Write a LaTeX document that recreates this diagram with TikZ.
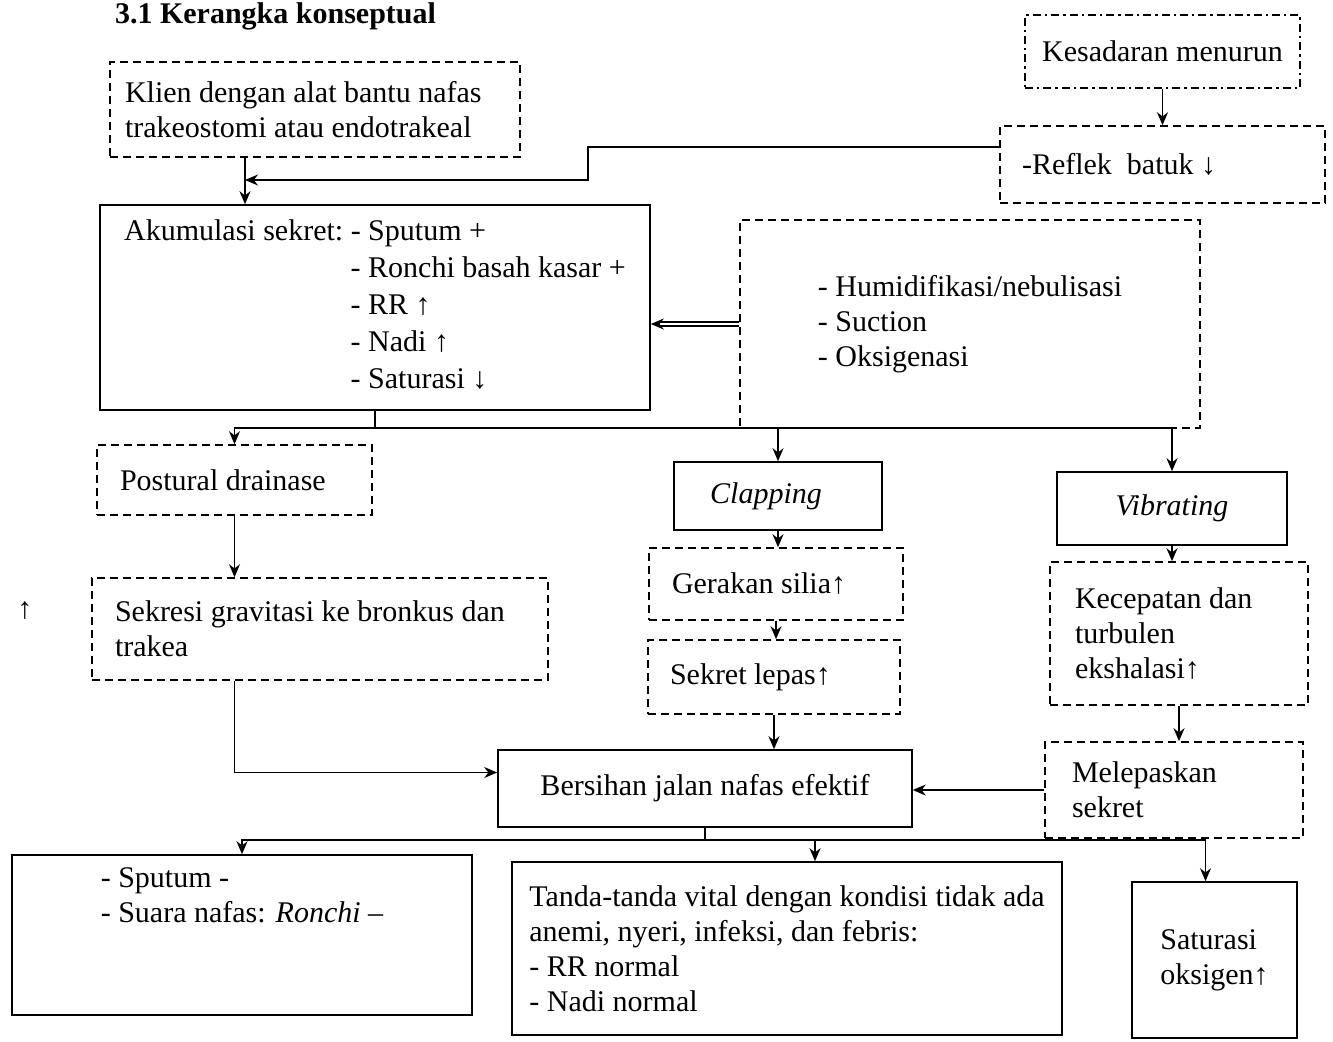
\documentclass[tikz,border=0pt]{standalone}
\usepackage{fontspec}
\setmainfont{Liberation Serif}
\usetikzlibrary{arrows.meta}

\begin{document}
\begin{tikzpicture}[x=0.5pt, y=-0.5pt,
    kotak/.style={draw, line width=0.8pt, inner sep=4pt, font=\fontsize{15}{17.5}\selectfont},
    garis/.style={kotak, dash pattern=on 4pt off 2.5pt},
    titik/.style={kotak, dash pattern=on 4pt off 2pt on 1.2pt off 2pt},
    hubung/.style={line width=0.8pt},
    panah/.style={hubung, -{Stealth[length=6.5pt,width=5.5pt]}}]
    \useasboundingbox (0,0) rectangle (1333,1041);
    \node[anchor=west, font=\fontsize{15}{18}\selectfont\bfseries] (judul) at (108,16) {3.1 Kerangka konseptual};
    \node[font=\fontsize{15}{18}\selectfont] (panahlepas) at (25,610) {↑};

    \node[titik, minimum width=137.5pt, minimum height=36.5pt] (kesadaran) at (1162.5,51.5) {Kesadaran menurun};
    \node[garis, minimum width=162.5pt, minimum height=38.5pt, text width=140.5pt, inner xsep=11pt, align=flush left] (reflek) at (1162.5,164.5) {-Reflek\ \ batuk ↓};
    \node[garis, minimum width=205pt, minimum height=47.5pt, text width=190pt, inner xsep=7.5pt, align=flush left] (klien) at (315,109.5) {Klien dengan alat bantu nafas\\trakeostomi atau endotrakeal};
    \node[kotak, minimum width=275pt, minimum height=102.5pt, font=\fontsize{15}{18.5}\selectfont] (akumulasi) at (375,307.5) {\begin{tabular}{@{}l@{\ }l@{}}Akumulasi sekret: & - Sputum +\\ & - Ronchi basah kasar +\\ & - RR ↑\\ & - Nadi ↑\\ & - Saturasi ↓\end{tabular}};
    \node[garis, minimum width=230pt, minimum height=104pt, align=flush left] (intervensi) at (970,324) {- Humidifikasi/nebulisasi\\- Suction\\- Oksigenasi};

    \node[garis, minimum width=137.5pt, minimum height=35pt, text width=114.5pt, inner xsep=11.5pt, align=flush left] (postural) at (234.5,480) {Postural drainase};
    \node[garis, minimum width=228pt, minimum height=51pt, text width=205pt, inner xsep=11.5pt, align=flush left] (sekresi) at (320,629) {Sekresi gravitasi ke bronkus dan\\trakea};
    \node[kotak, minimum width=104pt, minimum height=34pt] (clapping) at (778,496) {\textit{Clapping}\hspace*{12pt}};
    \node[garis, minimum width=127pt, minimum height=36pt, text width=104pt, inner xsep=11.5pt, align=flush left] (gerakan) at (776,584) {Gerakan silia↑};
    \node[garis, minimum width=126pt, minimum height=37pt, text width=104pt, inner xsep=11pt, align=flush left] (sekretlepas) at (774,677) {Sekret lepas↑};
    \node[kotak, minimum width=115pt, minimum height=36.5pt] (vibrating) at (1172,508.5) {\textit{Vibrating}};
    \node[garis, minimum width=129pt, minimum height=71.5pt, text width=104pt, inner xsep=12.5pt, align=flush left] (kecepatan) at (1179,633.5) {Kecepatan dan\\turbulen\\ekshalasi↑};
    \node[garis, minimum width=129pt, minimum height=48pt, text width=102pt, inner xsep=13.5pt, align=flush left] (melepaskan) at (1174,790) {Melepaskan\\sekret};
    \node[kotak, minimum width=207pt, minimum height=38.5pt] (bersihan) at (705,788.5) {Bersihan jalan nafas efektif};

    \node[kotak, minimum width=230pt, minimum height=80pt, align=flush left] (hasil) at (242,935) {- Sputum -\\- Suara nafas: \textit{Ronchi} –\\\strut\\\strut};
    \node[kotak, minimum width=275pt, minimum height=86.5pt, align=flush left] (tanda) at (787,948.5) {Tanda-tanda vital dengan kondisi tidak ada\\anemi, nyeri, infeksi, dan febris:\\- RR normal\\- Nadi normal};
    \node[kotak, minimum width=82.5pt, minimum height=78pt, align=flush left] (saturasi) at (1214.5,960) {Saturasi\\oksigen↑};

    \coordinate (sambung) at (245,180);
    \coordinate (tekuk) at (588,180);
    \coordinate (cabang1) at (375,428);
    \coordinate (cabang2) at (705,840);

    \draw[panah] (kesadaran) -- (reflek);
    \draw[panah] ([yshift=8.75pt]reflek.west) -| (tekuk) -- (sambung);
    \draw[panah] (klien.south -| sambung) -- (akumulasi.north -| sambung);
    \draw[panah, double, double distance=1.2pt] (intervensi.west) -- (intervensi.west -| akumulasi.east);
    \draw[hubung] (akumulasi.south -| cabang1) -- (cabang1);
    \draw[panah] (cabang1) -| (postural.north);
    \draw[panah] (cabang1) -| (clapping.north);
    \draw[panah] (cabang1) -| (vibrating.north);
    \draw[panah] (postural.south) -- (postural.south |- sekresi.north);
    \draw[panah] (clapping.south) -- (clapping.south |- gerakan.north);
    \draw[panah] (gerakan.south) -- (gerakan.south |- sekretlepas.north);
    \draw[panah] (sekretlepas.south) -- (sekretlepas.south |- bersihan.north);
    \draw[panah] (vibrating.south) -- (vibrating.south |- kecepatan.north);
    \draw[panah] (kecepatan.south) -- (kecepatan.south |- melepaskan.north);
    \draw[panah] (melepaskan.west) -- (melepaskan.west -| bersihan.east);
    \draw[panah] (sekresi.south -| postural) |- ([yshift=8pt]bersihan.west);
    \draw[hubung] (bersihan.south) -- (cabang2);
    \draw[panah] (cabang2) -| (hasil.north);
    \draw[panah] (cabang2) -| ([xshift=14pt]tanda.north);
    \draw[panah] (cabang2) -| ([xshift=-4.5pt]saturasi.north);
\end{tikzpicture}
\end{document}
